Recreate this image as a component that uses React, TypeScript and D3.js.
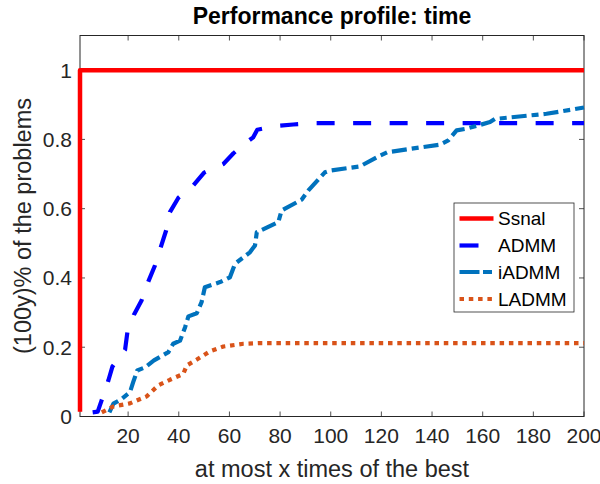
import React from "react";
import * as d3 from "d3";

const xTicks = [20, 40, 60, 80, 100, 120, 140, 160, 180, 200];
const yTicks = [0, 0.2, 0.4, 0.6, 0.8, 1];

const ssnalX = [1, 1, 200];
const ssnalY = [0.014, 1, 1];

const admmX = [6, 8, 9.5, 12.2, 13.8, 18.8, 19.7, 22.3, 25.3, 28, 30.6, 32.9, 35, 36.5, 39.8, 45.7, 50, 57.6, 61.6, 66.8, 69.4, 71, 78.7, 85.2, 93, 200];
const admmY = [0.012, 0.014, 0.046, 0.104, 0.144, 0.193, 0.243, 0.294, 0.335, 0.39, 0.436, 0.489, 0.537, 0.59, 0.631, 0.667, 0.704, 0.729, 0.76, 0.792, 0.806, 0.828, 0.839, 0.843, 0.847, 0.847];

const iadmmX = [12.6, 14.2, 17.5, 20.7, 22, 23.6, 26.7, 30.2, 35.9, 37.8, 40.5, 42.5, 43.8, 47.1, 49, 50.3, 56.3, 60.2, 62.2, 68.1, 70.1, 70.8, 79.3, 80.6, 88.5, 91.1, 97.7, 99.7, 111.5, 119.4, 122.4, 143.1, 146.4, 149.7, 153.6, 162.9, 164.8, 185.2, 200];
const iadmmY = [0.012, 0.037, 0.051, 0.07, 0.099, 0.133, 0.142, 0.162, 0.186, 0.21, 0.219, 0.258, 0.289, 0.298, 0.33, 0.373, 0.388, 0.402, 0.441, 0.474, 0.494, 0.532, 0.561, 0.595, 0.626, 0.652, 0.705, 0.71, 0.722, 0.753, 0.763, 0.785, 0.797, 0.826, 0.831, 0.85, 0.859, 0.874, 0.892];

const ladmmX = [9.6, 14.2, 20.7, 27.3, 31.9, 36.5, 41.8, 43.1, 47, 52.3, 57.6, 65.5, 72, 200];
const ladmmY = [0.012, 0.029, 0.038, 0.058, 0.09, 0.106, 0.123, 0.147, 0.164, 0.188, 0.202, 0.21, 0.212, 0.212];

const seriesNames = ["Ssnal", "ADMM", "iADMM", "LADMM"];
const seriesColors = ["#FF0000", "#0000FF", "#0072BD", "#D95319"];
const seriesDash = ["none", "18,18.5", "15,5,7,5", "4.5,4.8"];

const W = 600;
const H = 484;
const left = 80, right = 584, top = 35.5, bottom = 416.5;
const axisColor = "#262626";
const font = "'Liberation Sans', Arial, Helvetica, sans-serif";

export default function App() {
  const x = d3.scaleLinear().domain([1, 200]).range([left, right]);
  const y = d3.scaleLinear().domain([0, 1.1]).range([bottom, top]);
  const line = d3.line<[number, number]>().x((d) => x(d[0])).y((d) => y(d[1]));
  const data = [
    d3.zip(ssnalX, ssnalY) as [number, number][],
    d3.zip(admmX, admmY) as [number, number][],
    d3.zip(iadmmX, iadmmY) as [number, number][],
    d3.zip(ladmmX, ladmmY) as [number, number][],
  ];
  const tl = 5;
  const legX = 454, legY = 203, legW = 120, legH = 109;
  const legRows = [218.5, 245.5, 272, 299];
  const tickFs = 21;

  return (
    <svg width={W} height={H} style={{ position: "absolute", left: 0, top: 0, background: "#fff" }} fontFamily={font}>
      <rect x={0} y={0} width={W} height={H} fill="#fff" />
      {xTicks.map((t) => (
        <g key={"xt" + t}>
          <line x1={x(t)} x2={x(t)} y1={bottom} y2={bottom - tl} stroke={axisColor} strokeWidth={0.8} />
          <line x1={x(t)} x2={x(t)} y1={top} y2={top + tl} stroke={axisColor} strokeWidth={0.8} />
          <text x={x(t)} y={443} textAnchor="middle" fontSize={tickFs} fill={axisColor}>{t}</text>
        </g>
      ))}
      {yTicks.map((t) => (
        <g key={"yt" + t}>
          <line x1={left} x2={left + tl} y1={y(t)} y2={y(t)} stroke={axisColor} strokeWidth={0.8} />
          <line x1={right} x2={right - tl} y1={y(t)} y2={y(t)} stroke={axisColor} strokeWidth={0.8} />
          <text x={72} y={y(t) + 7.5} textAnchor="end" fontSize={tickFs} fill={axisColor}>{t}</text>
        </g>
      ))}
      <rect x={left} y={top} width={right - left} height={bottom - top} fill="none" stroke={axisColor} strokeWidth={1} />
      {data.map((d, i) => (
        <path key={seriesNames[i]} d={line(d) || ""} fill="none" stroke={seriesColors[i]} strokeWidth={i === 0 ? 4.5 : 4.2}
          strokeDasharray={seriesDash[i] === "none" ? undefined : seriesDash[i]} strokeLinejoin="round" />
      ))}
      <text x={(left + right) / 2} y={24} textAnchor="middle" fontSize={23} fontWeight="bold" fill="#000">Performance profile: time</text>
      <text x={(left + right) / 2} y={477} textAnchor="middle" fontSize={23.5} fill={axisColor}>at most x times of the best</text>
      <text transform={`translate(31,${(top + bottom) / 2}) rotate(-90)`} textAnchor="middle" fontSize={23.5} fill={axisColor}>(100y)% of the problems</text>
      <rect x={legX} y={legY} width={legW} height={legH} fill="#fff" stroke={axisColor} strokeWidth={0.8} />
      {seriesNames.map((n, i) => (
        <g key={"lg" + n}>
          <line x1={459.5} x2={493.5} y1={legRows[i]} y2={legRows[i]} stroke={seriesColors[i]} strokeWidth={i === 0 ? 4.5 : 4.2}
            strokeDasharray={seriesDash[i] === "none" ? undefined : (i === 1 ? "19,40" : i === 2 ? "20,3.5,9,10" : seriesDash[i])} />
          <text x={498} y={legRows[i] + 6.8} fontSize={19} fill="#000">{n}</text>
        </g>
      ))}
    </svg>
  );
}
